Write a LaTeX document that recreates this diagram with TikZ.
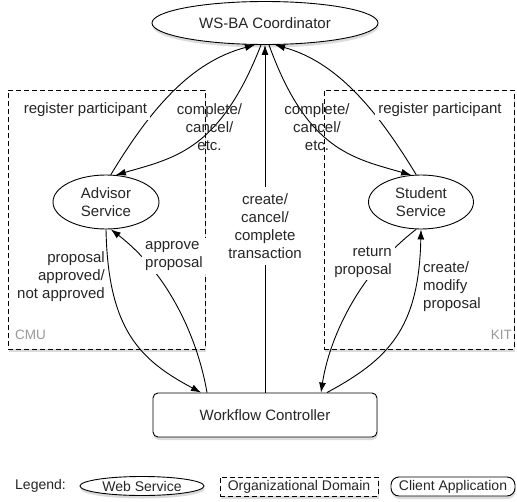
\documentclass[tikz,border=0pt]{standalone}
\usepackage{fontspec}
\setmainfont{Liberation Sans}
\usetikzlibrary{shapes.geometric,arrows.meta,shadows}
\begin{document}
\begin{tikzpicture}[x=1pt,y=-1pt,
  txt/.style={font=\fontsize{15}{18}\selectfont, text=black!85, inner sep=3pt},
  lgd/.style={font=\fontsize{14}{16}\selectfont, text=black!85},
  shd/.style={drop shadow={shadow xshift=0.6pt, shadow yshift=-3pt, opacity=0.28}},
  svc/.style={ellipse, draw, line width=0.9pt, fill=white, inner sep=0pt, align=center,
    font=\fontsize{15}{18}\selectfont, text=black!85},
  dom/.style={draw, line width=0.9pt, dash pattern=on 5pt off 3pt, fill=white, inner sep=0pt},
  client/.style={draw, line width=0.9pt, fill=white, rounded corners=5pt, inner sep=0pt,
    font=\fontsize{15}{18}\selectfont, text=black!85},
  conn/.style={line width=0.9pt, -{Latex[length=10pt,width=7pt]}},
  plain/.style={line width=0.9pt},
  dlabel/.style={font=\fontsize{13.5}{16}\selectfont, text=black!40, inner sep=0pt}
]
\fill[white] (0,0) rectangle (517,501);
\useasboundingbox (0,0) rectangle (517,501);

% organizational domains
\node[dom, shd, minimum width=197pt, minimum height=259pt] (cmu) at (106.5,219.5) {};
\node[dom, shd, minimum width=190pt, minimum height=259pt] (kit) at (419,219.5) {};
\node[dlabel, anchor=west] (cmulbl) at (15,335) {CMU};
\node[dlabel, anchor=east] (kitlbl) at (512,335) {KIT};

% services and client
\node[svc, shd, minimum width=226pt, minimum height=43pt] (ws) at (265,23) {WS-BA Coordinator};
\node[svc, minimum width=106pt, minimum height=54pt] (adv) at (106,202) {Advisor\\Service};
\node[svc, minimum width=105pt, minimum height=54pt] (stu) at (421,202) {Student\\Service};
\node[client, shd, minimum width=224pt, minimum height=44pt] (wf) at (265,415) {Workflow Controller};

% coordinates on the coordinator
\coordinate (wsA) at ([xshift=-10pt]ws.south);
\coordinate (wsB) at ([xshift=-4pt]ws.south);
\coordinate (wsC) at ([xshift=4pt]ws.south);
\coordinate (wsD) at ([xshift=10pt]ws.south);
% coordinates on the workflow controller
\coordinate (wfA) at ([xshift=-64pt]wf.north);
\coordinate (wfB) at ([xshift=-58pt]wf.north);
\coordinate (wfC) at ([xshift=56pt]wf.north);
\coordinate (wfD) at ([xshift=62pt]wf.north);

% connectors: advisor side
\draw[conn] (adv.80) .. controls (150,110) and (190,62) .. (wsA);
\draw[conn] (wsB) .. controls (220,150) and (175,158) .. (adv.70);
\draw[conn] (adv.south) .. controls (108,330) and (140,360) .. (wfA);
\draw[conn] (wfB) .. controls (198,340) and (170,275) .. (adv.280);

% connectors: student side
\draw[conn] (stu.100) .. controls (377,110) and (337,62) .. (wsD);
\draw[conn] (wsC) .. controls (307,150) and (352,158) .. (stu.110);
\draw[conn] (wfD) .. controls (387,360) and (419,330) .. (stu.south);
\draw[conn] (stu.260) .. controls (357,275) and (329,340) .. (wfC);

% central transaction connector
\draw[conn] (wf.north) -- (ws.south);

% labels
\node[txt, fill=white] (lrp) at (85.5,110) {register participant};
\node[txt, fill=white] (rrp) at (440,110) {register participant};
\node[txt, align=center] (lcc) at (209.5,127.5) {complete/\\cancel/\\etc.};
\node[txt, align=center] (rcc) at (317,127.5) {complete/\\cancel/\\etc.};
\node[txt, fill=white, align=center, inner sep=6pt] (ltx) at (265,226) {create/\\cancel/\\complete\\transaction};
\node[txt, fill=white, align=left, anchor=west] (lap) at (142,256) {approve\\proposal};
\node[txt, align=right, anchor=east] (lpa) at (108,277) {proposal\\approved/\\not approved};
\node[txt, fill=white, align=right, anchor=east] (rret) at (395,262) {return\\proposal};
\node[txt, align=left, anchor=west] (rcm) at (420,287) {create/\\modify\\proposal};

% legend
\node[lgd, anchor=west, inner sep=0pt] (lg) at (15,486) {Legend:};
\node[svc, shd, lgd, minimum width=124pt, minimum height=19pt] (lgws) at (142,486) {Web Service};
\node[dom, shd, lgd, minimum width=158pt, minimum height=19pt] (lgdom) at (299,486.5) {Organizational Domain};
\node[client, shd, lgd, rounded corners=8pt, minimum width=124pt, minimum height=19pt] (lgcl) at (453,486.5) {Client Application};
\end{tikzpicture}
\end{document}
